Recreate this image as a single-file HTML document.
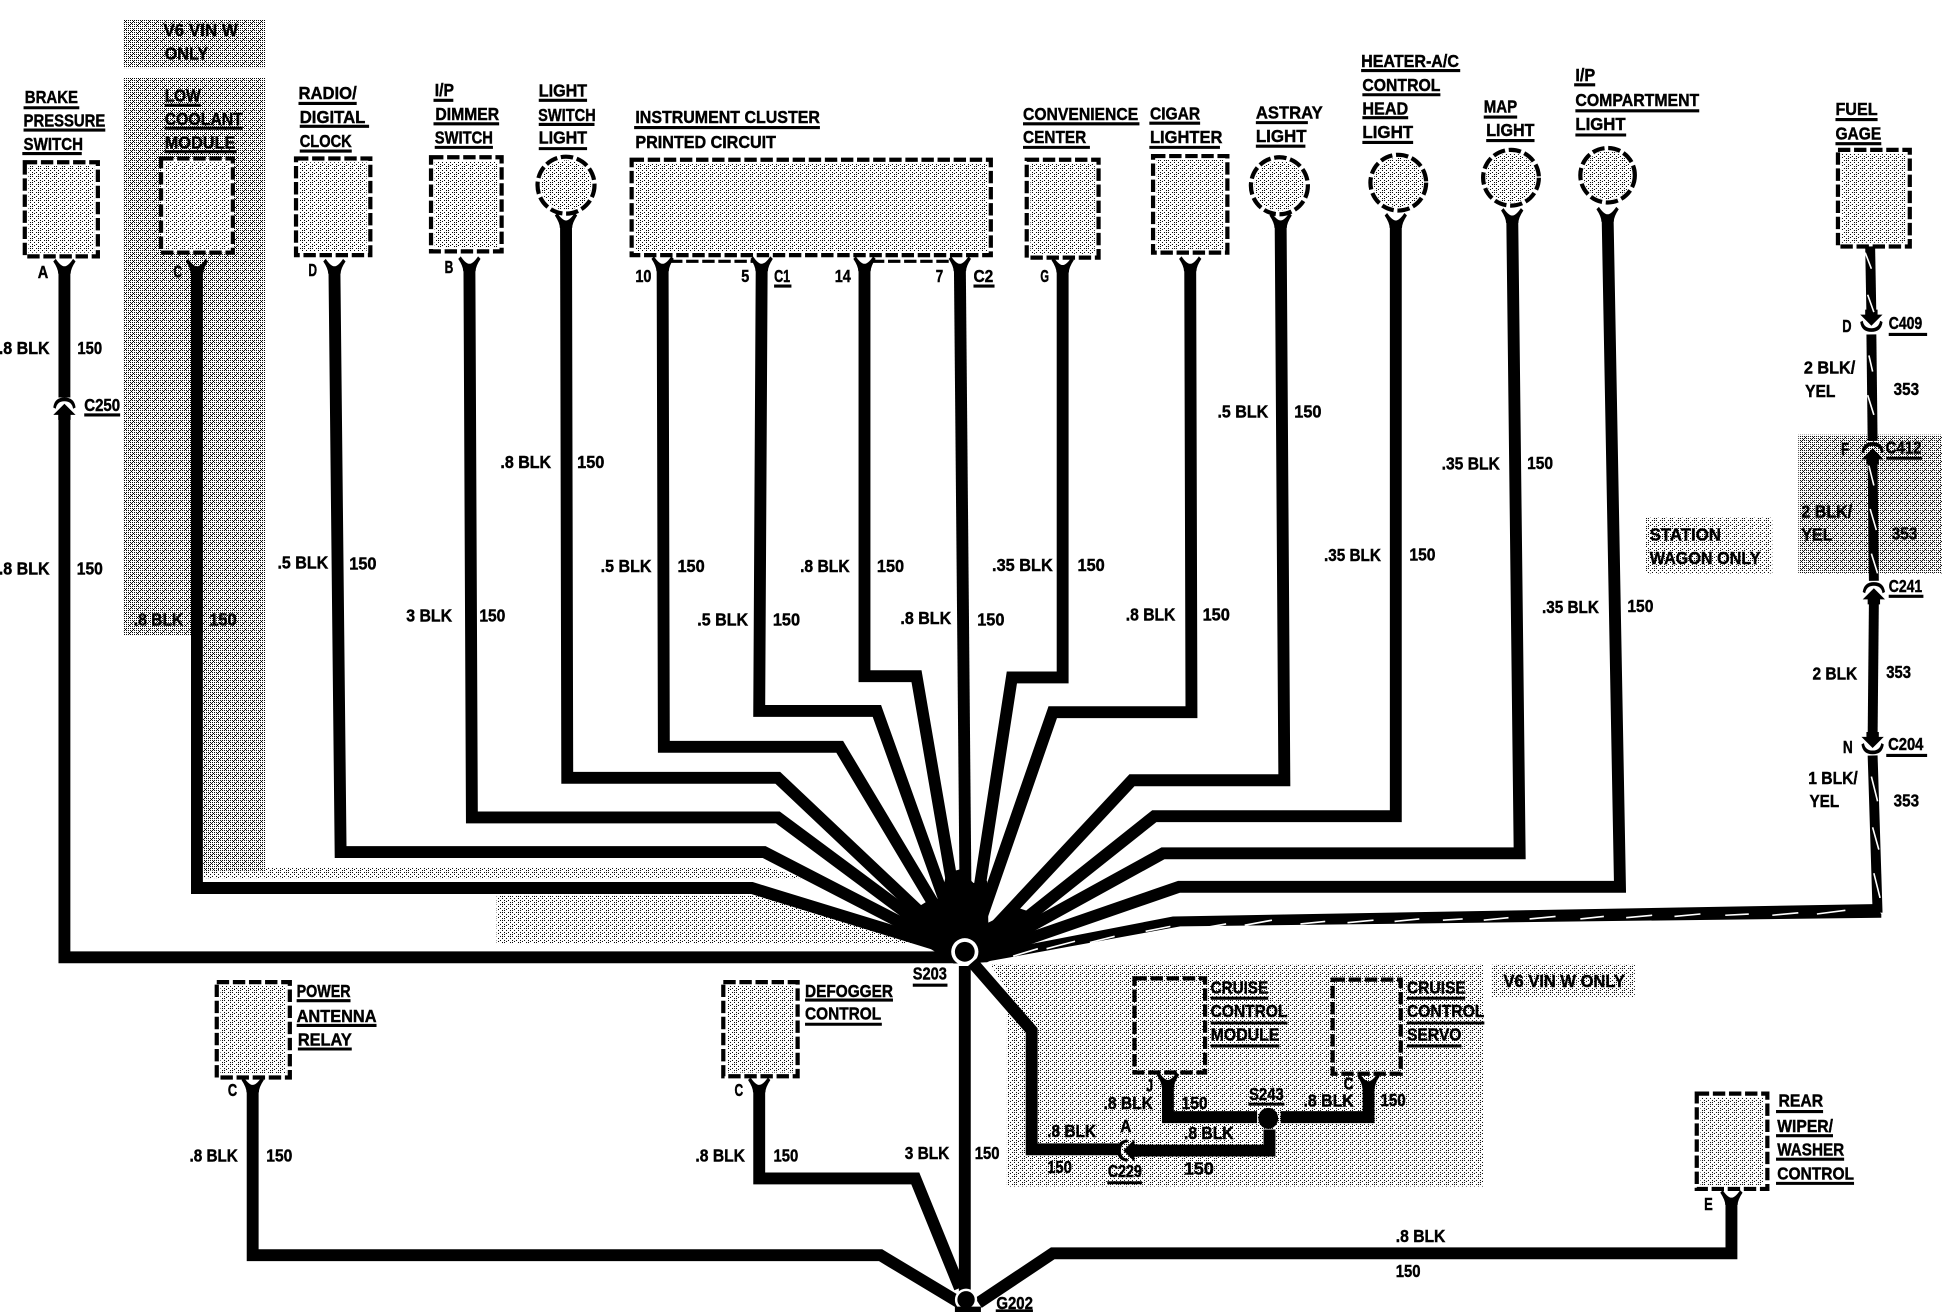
<!DOCTYPE html>
<html><head><meta charset="utf-8"><title>Ground distribution diagram</title>
<style>
html,body{margin:0;padding:0;background:#fff;width:1942px;height:1312px;overflow:hidden}
svg{display:block}
text{font-family:"Liberation Sans",sans-serif;font-weight:bold;font-size:14.5px;fill:#000;stroke:#000;stroke-width:.35px}
.w{fill:none;stroke:#000;stroke-width:9.6;stroke-linejoin:miter}
.f{fill:none;stroke:#000;stroke-width:8}
.u{fill:none;stroke:#000;stroke-width:2.5}
.t{fill:none;stroke:#fff;stroke-width:1.3}
.b{fill:#fff;stroke:#000;stroke-width:3.4;stroke-dasharray:10 3}
</style></head><body>
<svg xmlns="http://www.w3.org/2000/svg" width="1942" height="1312" viewBox="0 0 1568 1059.35">
<defs>
<pattern id="d" patternUnits="userSpaceOnUse" width="8" height="8" patternTransform="scale(.8074)">
<path d="M0 .5h1M2 .5h1M4 .5h1M6 .5h1M1 1.5h1M0 2.5h1M2 2.5h1M4 2.5h1M6 2.5h1M0 4.5h1M2 4.5h1M4 4.5h1M6 4.5h1M5 5.5h1M0 6.5h1M2 6.5h1M4 6.5h1M6 6.5h1M3 7.5h1" stroke="#000" stroke-width="1" shape-rendering="crispEdges"/>
</pattern>
<pattern id="l" patternUnits="userSpaceOnUse" width="8" height="8" patternTransform="scale(.8074)">
<path d="M0 .5h1M4 .5h1M6 .5h1M2 2.5h1M6 2.5h1M0 4.5h1M4 4.5h1M2 5.5h1M0 6.5h1M6 6.5h1" stroke="#000" stroke-width="1" shape-rendering="crispEdges"/>
</pattern>
<path id="k" d="M-9-1-7-3Q-3 3 0 3 3 3 7-3L9-1Q5 5 5 9H-5Q-5 5-9-1Z"/>
<g id="up"><path d="M-9 3Q-8-5 0-5 8-5 9 3L7 4Q6-2 0-2-6-2-7 4Z"/><path d="M0 0 9 9 5 9 5 13-5 13-5 9-9 9Z"/></g>
</defs>

<!-- shaded regions -->
<g fill="url(#d)">
<rect x="100" y="16" width="114" height="39"/>
<path d="M100 63H214V703H164V513H100Z"/>
<rect x="1452" y="351" width="116" height="112"/>
</g>
<g fill="url(#l)">
<path d="M164 700H617L650 709H164Z"/>
<path d="M401 723H610L745 762H401Z"/>
<path d="M800 779H1198V958H813V800Z"/>
<rect x="1204" y="779" width="116" height="26"/>
<rect x="1329" y="418" width="102" height="45"/>
</g>

<!-- component boxes -->
<rect class="b" x="20" y="131" width="59" height="76"/>
<rect class="b" x="130" y="128" width="58" height="76"/>
<rect class="b" x="239" y="128" width="60" height="78"/>
<rect class="b" x="348" y="127" width="57" height="76"/>
<circle class="b" cx="457" cy="149.5" r="23"/>
<rect class="b" x="510" y="129" width="290" height="77"/>
<rect class="b" x="829" y="129" width="58" height="79"/>
<rect class="b" x="931" y="126" width="60" height="78"/>
<circle class="b" cx="1033" cy="150" r="23"/>
<circle class="b" cx="1129" cy="147.5" r="22.5"/>
<circle class="b" cx="1220" cy="143.5" r="22.5"/>
<circle class="b" cx="1298" cy="141.5" r="22"/>
<rect class="b" x="1484" y="121" width="58" height="78"/>
<rect class="b" x="175" y="793" width="59" height="77"/>
<rect class="b" x="584" y="793" width="60" height="76"/>
<rect class="b" x="916" y="790" width="57" height="76" style="fill:none"/>
<rect class="b" x="1076" y="791" width="55" height="76" style="fill:none"/>
<rect class="b" x="1370" y="883" width="57" height="77"/>
<g fill="url(#l)">
<rect x="23" y="134" width="53" height="70"/>
<rect x="133" y="131" width="52" height="70"/>
<rect x="242" y="131" width="54" height="72"/>
<rect x="351" y="130" width="51" height="70"/>
<circle cx="457" cy="149.5" r="20"/>
<rect x="513" y="132" width="284" height="71"/>
<rect x="832" y="132" width="52" height="73"/>
<rect x="934" y="129" width="54" height="72"/>
<circle cx="1033" cy="150" r="20"/>
<circle cx="1129" cy="147.5" r="20"/>
<circle cx="1220" cy="143.5" r="20"/>
<circle cx="1298" cy="141.5" r="19.5"/>
<rect x="1487" y="124" width="52" height="72"/>
<rect x="178" y="796" width="53" height="71"/>
<rect x="587" y="796" width="54" height="70"/>
<rect x="1373" y="886" width="51" height="71"/>
</g>
<path d="M541 211H610M704 211H768" fill="none" stroke="#000" stroke-width="2.6" stroke-dasharray="10 3"/>

<!-- wires into S203 -->
<path class="w" d="M52 216V321"/>
<path class="w" d="M52 338V773H775"/>
<path class="w" d="M159 216V717H607L770 767"/>
<path class="w" d="M270 216 275 688H617L770 767"/>
<path class="w" d="M379 214 381 660H628L772 767"/>
<path class="w" d="M457 178 458 628H628L775 767"/>
<path class="w" d="M535 214 536 603H678L776 767"/>
<path class="w" d="M615 214 613 574H708L777 767"/>
<path class="w" d="M698 214V546H740L778 767"/>
<path class="w" d="M775 214 780 770"/>
<path class="w" d="M858 214V547H817L783 768"/>
<path class="w" d="M961 214 962 575H850L783 768"/>
<path class="w" d="M1034 178 1037 630H914L785 768"/>
<path class="w" d="M1127 178V659H932L790 772"/>
<path class="w" d="M1221 174 1227 689H939L790 771"/>
<path class="w" d="M1298 174 1308 716H952L790 772"/>
<path d="M748 764 723 747 727.5 737.5 740 733 749 727.5 760 725 764 705 775 702 786 713 797 711 798 745 822 733 834 737 832 749 822 765 797 777 770 778Z"/>

<!-- fuel gage wire -->
<path class="f" d="M1510 199 1511 254"/>
<path class="f" d="M1511 270 1512 356"/>
<path class="f" d="M1512 374 1513 469"/>
<path class="f" d="M1513 487 1512 595"/>
<path class="f" d="M1512 610 1516 737"/>
<path d="M1519 738 1512 730 947 740 792 770 788 778 953 748 1519 741Z"/>
<use href="#up" x="1511" y="263" transform="matrix(1 0 0 -1 0 526)"/>
<use href="#up" x="1512" y="362"/>
<use href="#up" x="1513" y="475"/>
<use href="#up" x="1512" y="604" transform="matrix(1 0 0 -1 0 1208)"/>
<use href="#up" x="52" y="326"/>
<path class="t" d="M1506 204 1511 217M1508 238 1513 252M1509 287 1512 300M1508 319 1513 335M1509 376 1513 392M1510 411 1515 428M1511 447 1516 463M1511 627 1516 647M1512 668 1517 686M1513 705 1518 725"/>
<path class="t" d="M1467 738 1490 735M1431 739 1452 737M1393 739 1412 738M1352 740 1373 738M1313 741 1334 739M1276 742 1295 740M1235 742 1256 740M1198 743 1218 741M1165 743 1181 742M1126 744 1146 742M1088 745 1109 743M1050 746 1070 744M1005 747 1027 743M967 750 990 746M925 752 945 748M880 761 900 756M845 766 868 760M818 772 838 766"/>

<!-- forks -->
<use href="#k" x="52" y="212"/><use href="#k" x="159" y="212"/><use href="#k" x="270" y="212"/>
<use href="#k" x="379" y="210"/><use href="#k" x="457" y="175"/><use href="#k" x="535" y="210"/>
<use href="#k" x="615" y="210"/><use href="#k" x="698" y="210"/><use href="#k" x="775" y="210"/>
<use href="#k" x="858" y="211"/><use href="#k" x="961" y="210"/><use href="#k" x="1034" y="175"/>
<use href="#k" x="1127" y="175"/><use href="#k" x="1221" y="171"/><use href="#k" x="1298" y="170"/>
<use href="#k" x="204" y="873"/><use href="#k" x="613" y="873"/><use href="#k" x="943" y="869"/>
<use href="#k" x="1105" y="870"/><use href="#k" x="1398" y="964"/>

<!-- S203 splice -->
<ellipse cx="779" cy="768.5" rx="11" ry="11" fill="#fff"/>
<circle cx="779" cy="768.5" r="8"/>

<!-- lower wires -->
<path class="w" d="M779 780V1046"/>
<path class="w" d="M204 878V1013.5H711L775 1052"/>
<path class="w" d="M613 878V951.5H739L775 1040"/>
<path class="w" d="M1398 968V1012H850L790 1052"/>
<path class="w" d="M785 777 833 832V928H904"/>
<path class="w" d="M914 929H1025V912"/>
<path class="w" d="M943 873V902H1015"/>
<path class="w" d="M1034 902H1105V874"/>
<ellipse cx="1024" cy="903" rx="8" ry="8.5"/>
<use href="#up" transform="translate(907 929) rotate(-90)"/>
<circle cx="780" cy="1049.5" r="8" stroke="#fff" stroke-width="2"/>
<path d="M771 1055H792V1059.35H771Z"/>

<!-- component labels -->
<g>
<text x="20" y="83" textLength="43" lengthAdjust="spacingAndGlyphs">BRAKE</text>
<text x="19" y="102" textLength="66" lengthAdjust="spacingAndGlyphs">PRESSURE</text>
<text x="19" y="121" textLength="48" lengthAdjust="spacingAndGlyphs">SWITCH</text>
<text x="132" y="29" textLength="60" lengthAdjust="spacingAndGlyphs">V6 VIN W</text>
<text x="133" y="48" textLength="35" lengthAdjust="spacingAndGlyphs">ONLY</text>
<text x="133" y="82" textLength="29" lengthAdjust="spacingAndGlyphs">LOW</text>
<text x="133" y="101" textLength="63" lengthAdjust="spacingAndGlyphs">COOLANT</text>
<text x="133" y="120" textLength="57" lengthAdjust="spacingAndGlyphs">MODULE</text>
<text x="241" y="80" textLength="47" lengthAdjust="spacingAndGlyphs">RADIO/</text>
<text x="242" y="99.5" textLength="53" lengthAdjust="spacingAndGlyphs">DIGITAL</text>
<text x="242" y="118.5" textLength="42" lengthAdjust="spacingAndGlyphs">CLOCK</text>
<text x="351" y="77.5" textLength="15.5" lengthAdjust="spacingAndGlyphs">I/P</text>
<text x="351.5" y="97" textLength="51.5" lengthAdjust="spacingAndGlyphs">DIMMER</text>
<text x="351" y="116" textLength="47" lengthAdjust="spacingAndGlyphs">SWITCH</text>
<text x="435" y="78" textLength="39" lengthAdjust="spacingAndGlyphs">LIGHT</text>
<text x="434.5" y="97.5" textLength="46.5" lengthAdjust="spacingAndGlyphs">SWITCH</text>
<text x="435" y="116" textLength="39" lengthAdjust="spacingAndGlyphs">LIGHT</text>
<text x="513" y="99.5" textLength="149" lengthAdjust="spacingAndGlyphs">INSTRUMENT CLUSTER</text>
<text x="513" y="119.5" textLength="113.5" lengthAdjust="spacingAndGlyphs">PRINTED CIRCUIT</text>
<text x="826" y="97" textLength="93" lengthAdjust="spacingAndGlyphs">CONVENIENCE</text>
<text x="826" y="115.5" textLength="51" lengthAdjust="spacingAndGlyphs">CENTER</text>
<text x="928.5" y="96.5" textLength="40.5" lengthAdjust="spacingAndGlyphs">CIGAR</text>
<text x="928.5" y="115.5" textLength="58.5" lengthAdjust="spacingAndGlyphs">LIGHTER</text>
<text x="1014" y="95.5" textLength="54" lengthAdjust="spacingAndGlyphs">ASTRAY</text>
<text x="1014" y="114.5" textLength="41" lengthAdjust="spacingAndGlyphs">LIGHT</text>
<text x="1099" y="54" textLength="79" lengthAdjust="spacingAndGlyphs">HEATER-A/C</text>
<text x="1100" y="73.5" textLength="63" lengthAdjust="spacingAndGlyphs">CONTROL</text>
<text x="1100" y="92.5" textLength="37" lengthAdjust="spacingAndGlyphs">HEAD</text>
<text x="1100" y="111.5" textLength="41" lengthAdjust="spacingAndGlyphs">LIGHT</text>
<text x="1198" y="91" textLength="27" lengthAdjust="spacingAndGlyphs">MAP</text>
<text x="1200" y="110" textLength="39" lengthAdjust="spacingAndGlyphs">LIGHT</text>
<text x="1272" y="65.5" textLength="16" lengthAdjust="spacingAndGlyphs">I/P</text>
<text x="1272" y="85.5" textLength="100" lengthAdjust="spacingAndGlyphs">COMPARTMENT</text>
<text x="1272" y="105" textLength="40.5" lengthAdjust="spacingAndGlyphs">LIGHT</text>
<text x="1482" y="93" textLength="34" lengthAdjust="spacingAndGlyphs">FUEL</text>
<text x="1482" y="112.5" textLength="37" lengthAdjust="spacingAndGlyphs">GAGE</text>
<text x="239.5" y="805" textLength="43.5" lengthAdjust="spacingAndGlyphs">POWER</text>
<text x="239.5" y="825" textLength="64.5" lengthAdjust="spacingAndGlyphs">ANTENNA</text>
<text x="240.5" y="844" textLength="43.5" lengthAdjust="spacingAndGlyphs">RELAY</text>
<text x="650" y="805" textLength="71" lengthAdjust="spacingAndGlyphs">DEFOGGER</text>
<text x="650" y="823" textLength="61.5" lengthAdjust="spacingAndGlyphs">CONTROL</text>
<text x="977.5" y="802" textLength="46.5" lengthAdjust="spacingAndGlyphs">CRUISE</text>
<text x="977.5" y="821" textLength="62" lengthAdjust="spacingAndGlyphs">CONTROL</text>
<text x="977.5" y="840" textLength="55.5" lengthAdjust="spacingAndGlyphs">MODULE</text>
<text x="1136" y="802" textLength="47.5" lengthAdjust="spacingAndGlyphs">CRUISE</text>
<text x="1136" y="821" textLength="62.5" lengthAdjust="spacingAndGlyphs">CONTROL</text>
<text x="1136" y="840" textLength="44" lengthAdjust="spacingAndGlyphs">SERVO</text>
<text x="1214" y="797" textLength="98" lengthAdjust="spacingAndGlyphs">V6 VIN W ONLY</text>
<text x="1332" y="436.5" textLength="57.5" lengthAdjust="spacingAndGlyphs">STATION</text>
<text x="1332" y="455.5" textLength="89.5" lengthAdjust="spacingAndGlyphs">WAGON ONLY</text>
<text x="1436" y="893.5" textLength="36" lengthAdjust="spacingAndGlyphs">REAR</text>
<text x="1435" y="914" textLength="45" lengthAdjust="spacingAndGlyphs">WIPER/</text>
<text x="1435" y="933" textLength="54" lengthAdjust="spacingAndGlyphs">WASHER</text>
<text x="1435" y="952.5" textLength="62" lengthAdjust="spacingAndGlyphs">CONTROL</text>

<!-- pins and connectors -->
<text x="30.5" y="224.5" textLength="8.5" lengthAdjust="spacingAndGlyphs">A</text>
<text x="140" y="224" textLength="7" lengthAdjust="spacingAndGlyphs">C</text>
<text x="249" y="223" textLength="7" lengthAdjust="spacingAndGlyphs">D</text>
<text x="359" y="220.5" textLength="7" lengthAdjust="spacingAndGlyphs">B</text>
<text x="513" y="227.5" textLength="13" lengthAdjust="spacingAndGlyphs">10</text>
<text x="598.5" y="227.5" textLength="6.5" lengthAdjust="spacingAndGlyphs">5</text>
<text x="625" y="227.5" textLength="13" lengthAdjust="spacingAndGlyphs">C1</text>
<text x="674" y="227.5" textLength="13" lengthAdjust="spacingAndGlyphs">14</text>
<text x="755.5" y="227.5" textLength="6" lengthAdjust="spacingAndGlyphs">7</text>
<text x="786" y="227.5" textLength="16" lengthAdjust="spacingAndGlyphs">C2</text>
<text x="840" y="227.5" textLength="7" lengthAdjust="spacingAndGlyphs">G</text>
<text x="68" y="332" textLength="29" lengthAdjust="spacingAndGlyphs">C250</text>
<text x="1487.5" y="268" textLength="7.5" lengthAdjust="spacingAndGlyphs">D</text>
<text x="1525" y="265.5" textLength="27" lengthAdjust="spacingAndGlyphs">C409</text>
<text x="1486.5" y="367.5" textLength="6.5" lengthAdjust="spacingAndGlyphs">F</text>
<text x="1522.5" y="366" textLength="29" lengthAdjust="spacingAndGlyphs">C412</text>
<text x="1525" y="478" textLength="27" lengthAdjust="spacingAndGlyphs">C241</text>
<text x="1488" y="608" textLength="8" lengthAdjust="spacingAndGlyphs">N</text>
<text x="1524.5" y="605.5" textLength="28.5" lengthAdjust="spacingAndGlyphs">C204</text>
<text x="737" y="791" textLength="27.5" lengthAdjust="spacingAndGlyphs">S203</text>
<text x="804.5" y="1057" textLength="29.5" lengthAdjust="spacingAndGlyphs">G202</text>
<text x="1008.5" y="888" textLength="28" lengthAdjust="spacingAndGlyphs">S243</text>
<text x="894.5" y="950.5" textLength="27.5" lengthAdjust="spacingAndGlyphs">C229</text>
<text x="184" y="885" textLength="7.5" lengthAdjust="spacingAndGlyphs">C</text>
<text x="593" y="885" textLength="7" lengthAdjust="spacingAndGlyphs">C</text>
<text x="925.5" y="881.5" textLength="5.5" lengthAdjust="spacingAndGlyphs">J</text>
<text x="1085" y="879.5" textLength="8" lengthAdjust="spacingAndGlyphs">C</text>
<text x="904.5" y="914" textLength="9" lengthAdjust="spacingAndGlyphs">A</text>
<text x="1376" y="977" textLength="7" lengthAdjust="spacingAndGlyphs">E</text>

<!-- wire labels -->
<text x="-1" y="286" textLength="41" lengthAdjust="spacingAndGlyphs">.8 BLK</text>
<text x="62.5" y="286" textLength="20" lengthAdjust="spacingAndGlyphs">150</text>
<text x="-1" y="464" textLength="41" lengthAdjust="spacingAndGlyphs">.8 BLK</text>
<text x="62" y="464" textLength="21" lengthAdjust="spacingAndGlyphs">150</text>
<text x="108" y="505" textLength="40" lengthAdjust="spacingAndGlyphs">.8 BLK</text>
<text x="169" y="505" textLength="22" lengthAdjust="spacingAndGlyphs">150</text>
<text x="224" y="459" textLength="41" lengthAdjust="spacingAndGlyphs">.5 BLK</text>
<text x="282" y="460" textLength="22" lengthAdjust="spacingAndGlyphs">150</text>
<text x="328" y="502" textLength="37" lengthAdjust="spacingAndGlyphs">3 BLK</text>
<text x="387" y="502" textLength="21" lengthAdjust="spacingAndGlyphs">150</text>
<text x="404" y="378" textLength="41" lengthAdjust="spacingAndGlyphs">.8 BLK</text>
<text x="466" y="378" textLength="22" lengthAdjust="spacingAndGlyphs">150</text>
<text x="485" y="462" textLength="41" lengthAdjust="spacingAndGlyphs">.5 BLK</text>
<text x="547" y="462" textLength="22" lengthAdjust="spacingAndGlyphs">150</text>
<text x="563" y="505" textLength="41" lengthAdjust="spacingAndGlyphs">.5 BLK</text>
<text x="624" y="505" textLength="22" lengthAdjust="spacingAndGlyphs">150</text>
<text x="646" y="462" textLength="40" lengthAdjust="spacingAndGlyphs">.8 BLK</text>
<text x="708" y="462" textLength="22" lengthAdjust="spacingAndGlyphs">150</text>
<text x="727" y="504" textLength="41" lengthAdjust="spacingAndGlyphs">.8 BLK</text>
<text x="789" y="505" textLength="22" lengthAdjust="spacingAndGlyphs">150</text>
<text x="801" y="461" textLength="49" lengthAdjust="spacingAndGlyphs">.35 BLK</text>
<text x="870" y="461" textLength="22" lengthAdjust="spacingAndGlyphs">150</text>
<text x="909" y="501" textLength="40" lengthAdjust="spacingAndGlyphs">.8 BLK</text>
<text x="971" y="501" textLength="22" lengthAdjust="spacingAndGlyphs">150</text>
<text x="983" y="337" textLength="41" lengthAdjust="spacingAndGlyphs">.5 BLK</text>
<text x="1045" y="337" textLength="22" lengthAdjust="spacingAndGlyphs">150</text>
<text x="1069" y="453" textLength="46" lengthAdjust="spacingAndGlyphs">.35 BLK</text>
<text x="1138" y="452.5" textLength="21" lengthAdjust="spacingAndGlyphs">150</text>
<text x="1164" y="379" textLength="47" lengthAdjust="spacingAndGlyphs">.35 BLK</text>
<text x="1233" y="378.5" textLength="21" lengthAdjust="spacingAndGlyphs">150</text>
<text x="1245" y="495" textLength="46" lengthAdjust="spacingAndGlyphs">.35 BLK</text>
<text x="1314" y="494" textLength="21" lengthAdjust="spacingAndGlyphs">150</text>
<text x="1456.5" y="301.5" textLength="41.5" lengthAdjust="spacingAndGlyphs">2 BLK/</text>
<text x="1457.5" y="320.5" textLength="24.5" lengthAdjust="spacingAndGlyphs">YEL</text>
<text x="1529" y="319" textLength="20.5" lengthAdjust="spacingAndGlyphs">353</text>
<text x="1454.5" y="418" textLength="41" lengthAdjust="spacingAndGlyphs">2 BLK/</text>
<text x="1454.5" y="436.5" textLength="25" lengthAdjust="spacingAndGlyphs">YEL</text>
<text x="1527.5" y="435.5" textLength="20.5" lengthAdjust="spacingAndGlyphs">353</text>
<text x="1463.5" y="548.5" textLength="36" lengthAdjust="spacingAndGlyphs">2 BLK</text>
<text x="1523" y="547.5" textLength="20" lengthAdjust="spacingAndGlyphs">353</text>
<text x="1460" y="633" textLength="40" lengthAdjust="spacingAndGlyphs">1 BLK/</text>
<text x="1461" y="651.5" textLength="24" lengthAdjust="spacingAndGlyphs">YEL</text>
<text x="1529" y="651" textLength="20.5" lengthAdjust="spacingAndGlyphs">353</text>
<text x="153" y="938" textLength="39" lengthAdjust="spacingAndGlyphs">.8 BLK</text>
<text x="215" y="938" textLength="21" lengthAdjust="spacingAndGlyphs">150</text>
<text x="561.5" y="938" textLength="40" lengthAdjust="spacingAndGlyphs">.8 BLK</text>
<text x="624.5" y="938" textLength="20" lengthAdjust="spacingAndGlyphs">150</text>
<text x="730.5" y="936" textLength="36" lengthAdjust="spacingAndGlyphs">3 BLK</text>
<text x="787" y="936" textLength="20" lengthAdjust="spacingAndGlyphs">150</text>
<text x="891" y="895.5" textLength="40" lengthAdjust="spacingAndGlyphs">.8 BLK</text>
<text x="954" y="895.5" textLength="21" lengthAdjust="spacingAndGlyphs">150</text>
<text x="1052.5" y="893.5" textLength="40.5" lengthAdjust="spacingAndGlyphs">.8 BLK</text>
<text x="1114.5" y="893" textLength="20.5" lengthAdjust="spacingAndGlyphs">150</text>
<text x="845.5" y="918" textLength="39.5" lengthAdjust="spacingAndGlyphs">.8 BLK</text>
<text x="956" y="919.5" textLength="40" lengthAdjust="spacingAndGlyphs">.8 BLK</text>
<text x="845.5" y="947" textLength="20" lengthAdjust="spacingAndGlyphs">150</text>
<text x="956" y="948.5" textLength="24" lengthAdjust="spacingAndGlyphs">150</text>
<text x="1127" y="1003" textLength="40" lengthAdjust="spacingAndGlyphs">.8 BLK</text>
<text x="1127" y="1031" textLength="20" lengthAdjust="spacingAndGlyphs">150</text>
</g>

<!-- label underlines -->
<path class="u" d="M19 87H64M19 105H85M18 124H66M133 85H162M133 103.5H196M133 122.5H191M241 83.5H288M242 102H298M242 122H284M350 81H366M350 100H403M351 119H398M435 81H474M435 100.5H480M435 120H474M512 103H662M826 100H920M826 119H880M928 99.5H969M928 119H985M1014 99H1056M1014 118H1054M1099 57H1179M1100 76.5H1163M1100 95H1137M1100 115H1141M1198 94.5H1225M1200 113.5H1239M1271 68.5H1288M1272 89.5H1372M1272 109H1313M1482 96.5H1516M1482 116H1519M625 231H639M786 231H803M68 335H97M1525 270H1556M1523 370H1552M1525 481.5H1553M1523 610H1556M737 795.5H765M1008 891.5H1037M894 955H922M239.5 808H283M239.5 828H304M240.5 847H284M650 807.5H721M650 827H712M977.5 806H1024M977.5 826H1039.5M977.5 844.5H1033M1136 806H1183M1136 826H1198.5M1136 844.5H1180M1434 897.5H1472M1434 917H1480M1434 936H1489M1434 955.5H1497M804 1058.5H834"/>
</svg>
</body></html>
